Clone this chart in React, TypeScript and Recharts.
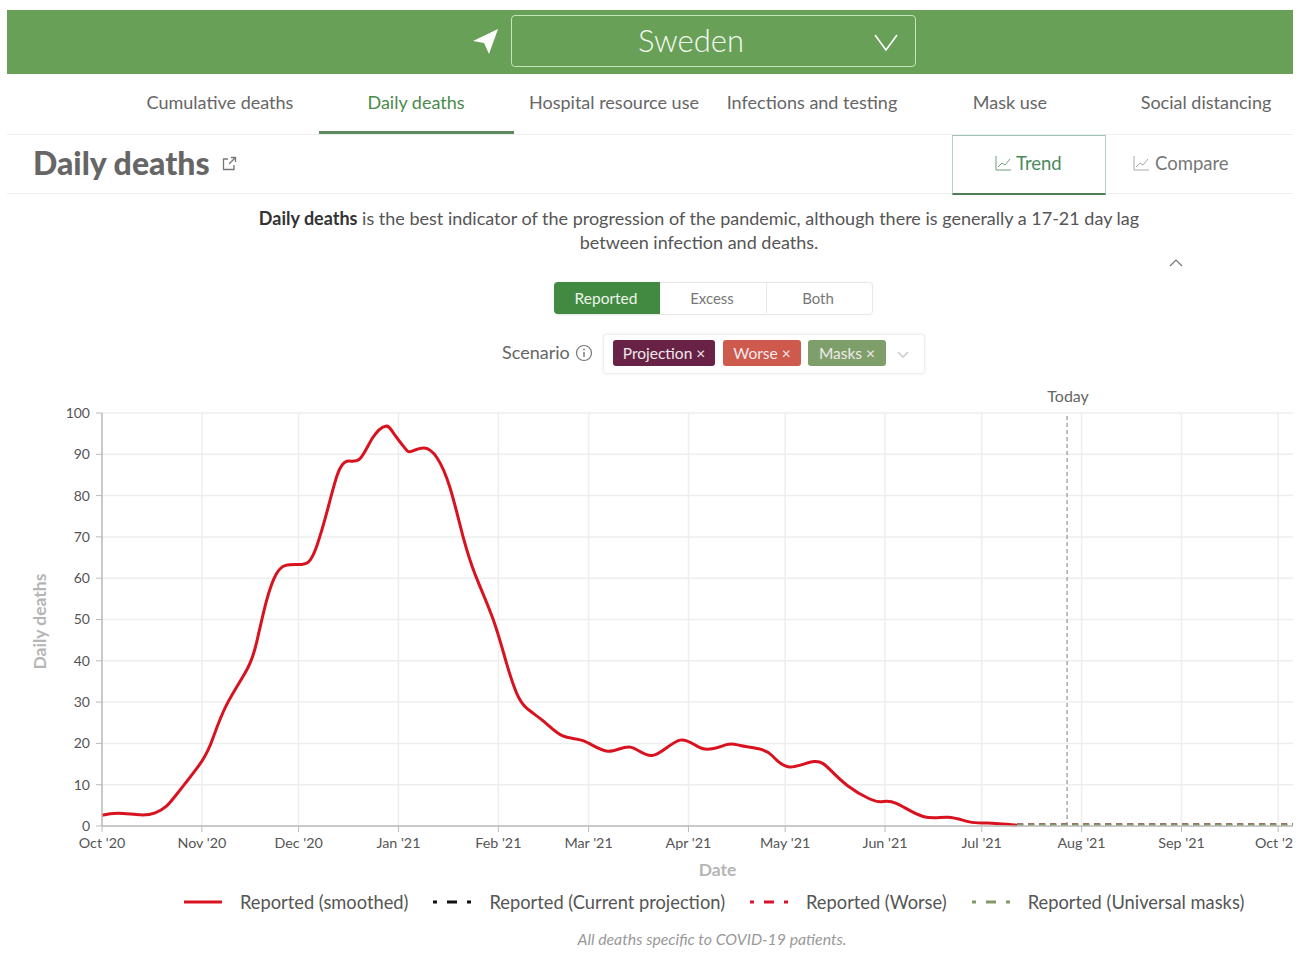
import React from 'react';
import { LineChart, Line, XAxis, YAxis, CartesianGrid, ReferenceLine, Legend } from 'recharts';

const FONT = 'Lato, "Open Sans", sans-serif';

// Days counted from 1 Oct 2020
const reportedDays = [0, 5, 12, 16.5, 20, 24, 31, 34.5, 38.7, 45, 48, 51, 54, 57, 61, 64, 66.6, 70, 73, 76, 80, 84, 88, 90.4, 94, 96, 100, 104, 108, 112, 116, 121.4, 125.5, 128.6, 131.7, 137, 143, 149.5, 157, 164, 171, 179.4, 186.6, 193.8, 198, 203.8, 208, 213.2, 221, 226, 231.5, 238.1, 242, 246.5, 254.8, 262.5, 269.2, 274.7, 284];
const reportedValues = [2.6, 3.1, 2.7, 3.2, 4.8, 8.5, 15.7, 21.4, 29.4, 37.9, 44.5, 54.4, 60.9, 63.1, 63.3, 63.9, 67.7, 76.6, 85, 88.3, 88.9, 94, 96.8, 95.2, 91.5, 90.7, 91.5, 89.1, 81.9, 70.2, 60.5, 50, 39.5, 32.3, 28.6, 25.4, 21.8, 20.6, 18.1, 19.1, 17.1, 20.8, 18.7, 19.7, 19.5, 18.7, 17, 14.3, 15.6, 13.6, 9.7, 6.6, 5.9, 5.5, 2.3, 2.1, 1, 0.7, 0.2];
const projectionDays = [284, 300, 320, 340, 369.6];
const currentValues = [0.3, 0.3, 0.3, 0.3, 0.3];
const worseValues = [0.3, 0.3, 0.3, 0.3, 0.3];
const masksValues = [0.3, 0.3, 0.3, 0.3, 0.3];

const monthTicks = [0, 31, 61, 92, 123, 151, 182, 212, 243, 273, 304, 335, 365];
const monthLabels = ["Oct '20", "Nov '20", "Dec '20", "Jan '21", "Feb '21", "Mar '21", "Apr '21", "May '21", "Jun '21", "Jul '21", "Aug '21", "Sep '21", "Oct '21"];
const valueTicks = [0, 10, 20, 30, 40, 50, 60, 70, 80, 90, 100];
const todayDay = 299.5;

const toRows = (days: number[], values: number[]) => days.map((day, i) => ({ day, value: values[i] }));

const DOT_DASH = '4 10 10 10 4';

const ChartLegend = ({ payload }: any) => (
  <div style={{ display: 'flex', height: 24, alignItems: 'center', paddingLeft: 184, fontFamily: FONT, fontSize: 18.3, color: '#555', whiteSpace: 'nowrap' }}>
    {(payload || []).map((entry: any) => (
      <div key={entry.value} style={{ display: 'flex', alignItems: 'center', marginRight: 25 }}>
        <svg width={38} height={6} style={{ marginRight: 18 }}>
          <line x1={0} x2={38} y1={3} y2={3} stroke={entry.color} strokeWidth={3} strokeDasharray={entry.payload?.strokeDasharray ? DOT_DASH : undefined} />
        </svg>
        <span>{entry.value}</span>
      </div>
    ))}
  </div>
);

const Abs = ({ style, children }: { style: React.CSSProperties; children?: React.ReactNode }) => (
  <div style={{ position: 'absolute', ...style }}>{children}</div>
);

// text centred on a given x
const Centered = ({ x, y, size, color, weight, children }: any) => (
  <div style={{ position: 'absolute', left: x - 200, top: y - 15, width: 400, height: 30, lineHeight: '30px', textAlign: 'center', fontSize: size, color, fontWeight: weight }}>
    {children}
  </div>
);

const Chevron = ({ x, y, w, h, color, up }: any) => (
  <svg style={{ position: 'absolute', left: x - w / 2, top: y - h / 2 }} width={w} height={h}>
    <polyline points={up ? `1,${h - 1} ${w / 2},1 ${w - 1},${h - 1}` : `1,1 ${w / 2},${h - 1} ${w - 1},1`} fill="none" stroke={color} strokeWidth={up ? 1.2 : 1.6} />
  </svg>
);

const TrendIcon = ({ x, color }: { x: number; color: string }) => (
  <svg style={{ position: 'absolute', left: x, top: 155 }} width={17} height={17}>
    <polyline points="1,1 1,15 16,15" fill="none" stroke={color} strokeWidth={1} />
    <polyline points="3,12 7,8 10,10 15,4" fill="none" stroke={color} strokeWidth={1} />
  </svg>
);

const tabs = [
  { label: 'Cumulative deaths', x: 220 },
  { label: 'Daily deaths', x: 416, active: true },
  { label: 'Hospital resource use', x: 614 },
  { label: 'Infections and testing', x: 812 },
  { label: 'Mask use', x: 1010 },
  { label: 'Social distancing', x: 1206 },
];

const tags = [
  { label: 'Projection', left: 613, width: 102, bg: '#672245' },
  { label: 'Worse', left: 723, width: 78, bg: '#cd5a4c' },
  { label: 'Masks', left: 808, width: 78, bg: '#7f9f6a' },
];

const App: React.FC = () => {
  return (
    <div style={{ position: 'absolute', left: 0, top: 0, width: 1299, height: 955, overflow: 'hidden', background: '#fff', fontFamily: FONT }}>
      {/* location bar */}
      <Abs style={{ left: 7, top: 10, width: 1286, height: 64, background: '#68a057' }} />
      <svg style={{ position: 'absolute', left: 472, top: 28 }} width={28} height={27}>
        <polygon points="26,1 1,13 12,15 17,26" fill="#fff" />
      </svg>
      <Abs style={{ left: 511, top: 15, width: 403, height: 50, border: '1.5px solid #c3e6b6', borderRadius: 4 }} />
      <Centered x={691} y={40} size={31} color="#f4f9f2" weight={300}>Sweden</Centered>
      <Chevron x={886} y={42} w={24} h={17} color="#fff" />

      {/* tabs */}
      {tabs.map((t) => (
        <Centered key={t.label} x={t.x} y={102} size={18} color={t.active ? '#4a8a4a' : '#666'}>{t.label}</Centered>
      ))}
      <Abs style={{ left: 7, top: 134, width: 1286, height: 1, background: '#eee' }} />
      <Abs style={{ left: 319, top: 131, width: 195, height: 3, background: '#5d8b5f' }} />

      {/* section header */}
      <Abs style={{ left: 33, top: 143, height: 40, lineHeight: '40px', fontSize: 32, fontWeight: 900, color: '#666' }}>Daily deaths</Abs>
      <svg style={{ position: 'absolute', left: 222, top: 156 }} width={15} height={15}>
        <path d="M6,3 H1.5 V13.5 H12 V9 M7,8 L13,2 M9,1.5 H13.5 V6" fill="none" stroke="#777" strokeWidth={1.3} />
      </svg>
      <Abs style={{ left: 7, top: 193, width: 1286, height: 1, background: '#eee' }} />
      <Abs style={{ left: 952, top: 135, width: 152, height: 57, borderTop: '1.5px solid #9cc4b0', borderLeft: '1px solid #b5d2c4', borderRight: '1px solid #b5d2c4', borderBottom: '2px solid #4f7f55', background: '#fff' }} />
      <TrendIcon x={995} color="#6f9f82" />
      <Abs style={{ left: 1016, top: 148, lineHeight: '30px', fontSize: 18.5, color: '#4a8a60' }}>Trend</Abs>
      <TrendIcon x={1133} color="#aaa" />
      <Abs style={{ left: 1155, top: 148, lineHeight: '30px', fontSize: 18.5, color: '#777' }}>Compare</Abs>

      {/* description */}
      <Abs style={{ left: 199, top: 206, width: 1000, textAlign: 'center', fontSize: 18, lineHeight: '24px', color: '#555' }}>
        <b style={{ color: '#333' }}>Daily deaths</b> is the best indicator of the progression of the pandemic, although there is generally a 17-21 day lag
        <br />between infection and deaths.
      </Abs>
      <Chevron x={1176} y={263} w={14} h={8} color="#777" up />

      {/* metric toggle */}
      <Abs style={{ left: 554, top: 282, width: 317, height: 31, border: '1px solid #e8e8e8', borderRadius: 4, boxShadow: '0 0 2px #eee' }} />
      <Abs style={{ left: 554, top: 282, width: 106, height: 32, background: '#428a42', borderRadius: '4px 0 0 4px' }} />
      <Abs style={{ left: 766, top: 283, width: 1, height: 30, background: '#e8e8e8' }} />
      <Centered x={606} y={298} size={15.5} color="#eef5ea">Reported</Centered>
      <Centered x={712} y={298} size={15} color="#777">Excess</Centered>
      <Centered x={818} y={298} size={15} color="#777">Both</Centered>

      {/* scenario select */}
      <Abs style={{ left: 502, top: 337, lineHeight: '30px', fontSize: 18, color: '#666' }}>Scenario</Abs>
      <svg style={{ position: 'absolute', left: 575, top: 344 }} width={18} height={18}>
        <circle cx={9} cy={9} r={7.5} fill="none" stroke="#777" strokeWidth={1.2} />
        <line x1={9} x2={9} y1={8} y2={13} stroke="#777" strokeWidth={1.4} />
        <circle cx={9} cy={5.5} r={0.9} fill="#777" />
      </svg>
      <Abs style={{ left: 603, top: 334, width: 320, height: 38, border: '1px solid #eee', borderRadius: 4, boxShadow: '0 0 3px #e8e8e8' }} />
      {tags.map((t) => (
        <Abs key={t.label} style={{ left: t.left, top: 340, width: t.width, height: 26, lineHeight: '26px', textAlign: 'center', background: t.bg, borderRadius: 3, color: '#f1e9ec', fontSize: 15.5 }}>
          {t.label} ×
        </Abs>
      ))}
      <Chevron x={903} y={354} w={12} h={7} color="#ccc" />

      <Abs style={{ left: 0, top: 0 }}>
        <LineChart width={1293} height={955} margin={{ top: 413, right: 0, bottom: 61, left: 42 }} style={{ fontFamily: FONT }}>
          <CartesianGrid stroke="#eeeeee" strokeWidth={1.5} horizontalValues={valueTicks} verticalValues={monthTicks} />
          <XAxis
            type="number"
            dataKey="day"
            domain={[0, 369.6]}
            ticks={monthTicks}
            interval={0}
            tickFormatter={(d: number) => monthLabels[monthTicks.indexOf(d)]}
            tick={{ fontSize: 14.3, fill: '#555' }}
            tickLine={{ stroke: '#bbb' }}
            tickMargin={6}
            axisLine={{ stroke: '#bbb', strokeWidth: 1.5 }}
            height={44}
            label={{ value: 'Date', position: 'insideBottom', dx: 20, dy: 11, fontSize: 17.5, fontWeight: 700, fill: '#b5b5b5' }}
          />
          <YAxis
            type="number"
            domain={[0, 100]}
            ticks={valueTicks}
            interval={0}
            tick={{ fontSize: 14, fill: '#555' }}
            tickLine={{ stroke: '#bbb' }}
            tickMargin={6}
            axisLine={{ stroke: '#bbb', strokeWidth: 1.5 }}
            width={60}
            label={{ value: 'Daily deaths', angle: -90, position: 'insideLeft', dx: -7, dy: 50, fontSize: 17.5, fontWeight: 700, fill: '#b5b5b5' }}
          />
          <ReferenceLine
            x={todayDay}
            stroke="#aaa"
            strokeWidth={1.5}
            strokeDasharray="4 3"
            label={{ value: 'Today', position: 'top', dx: 1, dy: -6, fontSize: 16, fill: '#666' }}
          />
          <Line data={toRows(reportedDays, reportedValues)} dataKey="value" name="Reported (smoothed)" type="natural" stroke="#d9121f" strokeWidth={3} dot={false} isAnimationActive={false} />
          <Line data={toRows(projectionDays, currentValues)} dataKey="value" name="Reported (Current projection)" type="monotone" stroke="#111111" strokeWidth={2.5} strokeDasharray="6 5" dot={false} isAnimationActive={false} />
          <Line data={toRows(projectionDays, worseValues)} dataKey="value" name="Reported (Worse)" type="monotone" stroke="#d9122f" strokeWidth={2.5} strokeDasharray="6 5" dot={false} isAnimationActive={false} />
          <Line data={toRows(projectionDays, masksValues)} dataKey="value" name="Reported (Universal masks)" type="monotone" stroke="#7f9a68" strokeWidth={2.5} strokeDasharray="6 5" dot={false} isAnimationActive={false} />
          <Legend content={<ChartLegend />} itemSorter={null} wrapperStyle={{ left: 0, width: 1293, bottom: 41 }} />
        </LineChart>
      </Abs>

      <Centered x={712} y={939} size={15.8} color="#999"><i>All deaths specific to COVID-19 patients.</i></Centered>
    </div>
  );
};

export default App;
